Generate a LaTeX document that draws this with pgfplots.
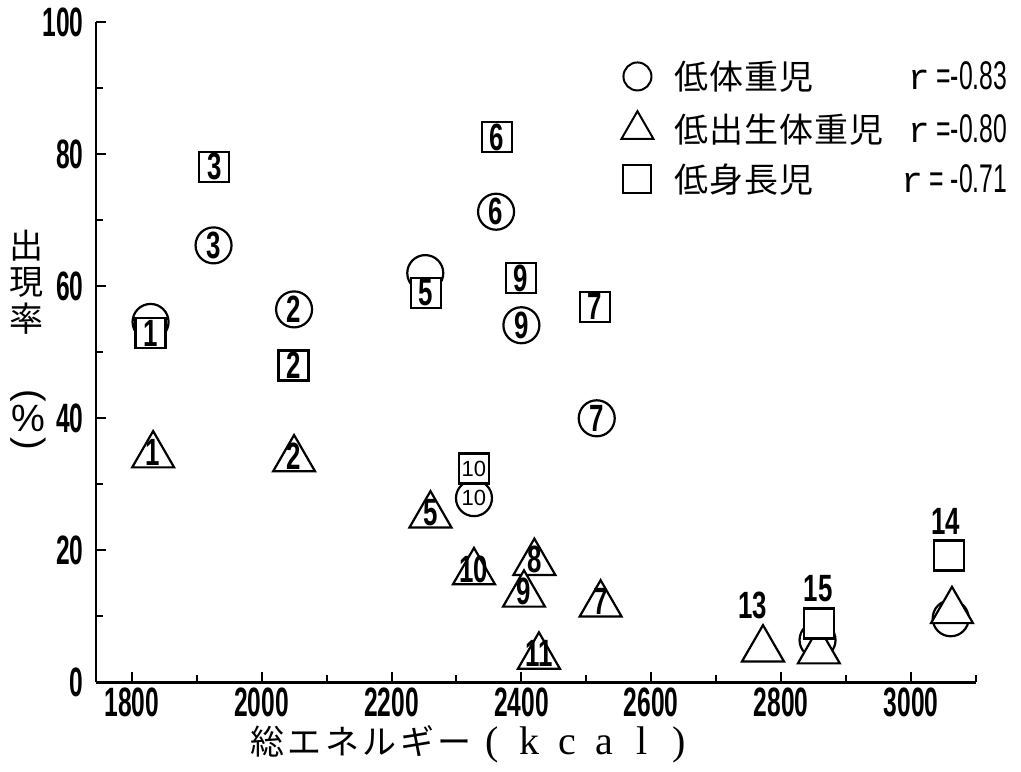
\documentclass[border=0pt]{standalone}
\usepackage{fontspec}
\usepackage{pgfplots}
\pgfplotsset{compat=1.18}
\setmainfont{Liberation Sans}
\newfontfamily\jp{Noto Sans CJK JP}
\newfontfamily\bcond[FakeStretch=0.6]{Liberation Sans Bold}
\newfontfamily\mcond[FakeStretch=0.68]{Liberation Sans Bold}
\newfontfamily\rcond[FakeStretch=0.62]{Liberation Sans}
\newfontfamily\mono{Liberation Mono}
\newfontfamily\serif{Liberation Serif}
\newcommand\tl{\bcond\fontsize{20.5}{20.5}\selectfont}
\newcommand\ml{\mcond\fontsize{19}{19}\selectfont}
\newcommand\jc[1]{\makebox[17.5pt]{#1}}
\newcommand\xc[1]{\makebox[18.75pt]{#1}}
\begin{document}
\begin{tikzpicture}
\path[use as bounding box] (-48pt,-44.35pt) rectangle (462.5pt,341.15pt);
\begin{axis}[
  scale only axis, width=440pt, height=330pt,
  xmin=1745, xmax=3100, ymin=0, ymax=100,
  axis lines*=left, axis line style={line width=1.3pt},
  tick align=inside,
  xtick={1800,2000,...,3000}, minor xtick={1900,2100,...,3100},
  ytick={0,20,...,100}, minor ytick={10,30,...,90},
  major tick length=5pt, minor tick length=3.5pt,
  every tick/.append style={black, line width=1pt},
  /pgf/number format/assume math mode=true,
  /pgf/number format/1000 sep={},
  ticklabel style={font=\tl, inner sep=0pt},
  xticklabel style={yshift=-2.5pt},
  yticklabel style={xshift=-6pt},
  clip=false,
  legend style={at={(axis description cs:0.5955,0.9424)}, anchor=north west,
    draw=none, fill=none, inner sep=0pt, row sep=9pt, column sep=10pt,
    nodes={inner sep=0pt}},
  legend cell align=left,
]
% circles
\addplot[only marks, mark=*, mark size=9pt, mark options={fill=white, draw=black, line width=1.1pt}, forget plot]
table {
x y
1829 54.6
2050 56.5
1926 66.2
2252 62.0
2361 71.3
2516 40.0
2400 54.1
2327 27.9
3061 9.7
2856 6.4
};
% triangles
\addplot[only marks, mark=triangle*, mark size=12.1pt, mark options={fill=white, draw=black, line width=1.1pt}, forget plot]
table {
x y
1833 34.4
2050 33.8
2260 25.3
2522 11.8
2420 18.1
2404 13.3
2327 16.7
2427 3.9
2772 5.0
3063 10.8
2858 4.7
};
% squares
\addplot[only marks, mark=square*, mark size=7.5pt, mark options={fill=white, draw=black, line width=1.1pt}, forget plot]
table {
x y
1829 52.9
2049 48.0
1927 78.1
2253 59.0
2362 82.6
2513 56.9
2399 61.2
2327 32.4
3058 19.2
2858 8.9
};
% labels bold (circles and squares)
\addplot[only marks, mark=none, forget plot, nodes near coords, point meta=explicit symbolic,
  every node near coord/.append style={anchor=center, font=\ml, text=black, inner sep=0pt}]
table[meta=l] {
x y l
2050 56.5 2
1926 66.2 3
2361 71.3 6
2516 40.0 7
2400 54.1 9
1829 52.9 1
2049 48.0 2
1927 78.1 3
2253 59.0 5
2362 82.6 6
2513 56.9 7
2399 61.2 9
};
% labels regular
\addplot[only marks, mark=none, forget plot, nodes near coords, point meta=explicit symbolic,
  every node near coord/.append style={anchor=center, font=\fontsize{11}{11}\selectfont, text=black, inner sep=0pt}]
table[meta=l] {
x y l
2327 27.9 10
2327 32.4 10
};
% triangle labels
\addplot[only marks, mark=none, forget plot, nodes near coords, point meta=explicit symbolic,
  every node near coord/.append style={anchor=center, font=\ml, text=black, inner sep=0pt, yshift=1.5pt}]
table[meta=l] {
x y l
1833 34.4 1
2050 33.8 2
2260 25.3 5
2522 11.8 7
2420 18.1 8
2404 13.3 9
2327 16.7 10
2427 3.9 11
};
\node[font=\ml] at (axis cs:2756,11.7) {13};
\node[font=\ml] at (axis cs:2857,14.2) {15};
\node[font=\ml] at (axis cs:3053,24.3) {14};
% legend
\addlegendimage{legend image code/.code={\draw[line width=1pt] (0pt,0pt) circle[radius=7pt];}}
\addlegendentry{\makebox[166.5pt][l]{\jp\fontsize{17}{17}\selectfont\jc{低}\jc{体}\jc{重}\jc{児}\hfill{\mono\fontsize{18}{18}\selectfont r}{\rcond\fontsize{20}{20}\selectfont\,=-0.83}}}
\addlegendimage{legend image code/.code={\draw[line width=1pt] (-8pt,-4.62pt) -- (8pt,-4.62pt) -- (0pt,9.24pt) -- cycle;}}
\addlegendentry{\makebox[166.5pt][l]{\jp\fontsize{17}{17}\selectfont\jc{低}\jc{出}\jc{生}\jc{体}\jc{重}\jc{児}\hfill{\mono\fontsize{18}{18}\selectfont r}{\rcond\fontsize{20}{20}\selectfont\,=-0.80}}}
\addlegendimage{legend image code/.code={\draw[line width=1pt] (-7pt,-7pt) rectangle (7pt,7pt);}}
\addlegendentry{\makebox[166.5pt][l]{\jp\fontsize{17}{17}\selectfont\jc{低}\jc{身}\jc{長}\jc{児}\hfill{\mono\fontsize{18}{18}\selectfont r}{\rcond\fontsize{20}{20}\selectfont\,= -0.71}}}
\end{axis}
% axis titles
\node[anchor=west, inner sep=0pt] at (76pt,-30.85pt) {\jp\fontsize{17}{17}\selectfont\xc{総}\xc{エ}\xc{ネ}\xc{ル}\xc{ギ}\xc{ー}{\serif\fontsize{20}{20}\selectfont\xc{(}\xc{k}\xc{c}\xc{a}\xc{l}\xc{)}}};
\node[inner sep=0pt, font=\jp\fontsize{17}{17}\selectfont] at (-34.5pt,218.2pt) {出};
\node[inner sep=0pt, font=\jp\fontsize{17}{17}\selectfont] at (-34.5pt,200.0pt) {現};
\node[inner sep=0pt, font=\jp\fontsize{17}{17}\selectfont] at (-34.5pt,181.8pt) {率};
\node[inner sep=0pt, rotate=-90, font=\fontsize{19}{19}\selectfont] at (-33.75pt,143.4pt) {(};
\node[inner sep=0pt, font=\fontsize{19}{19}\selectfont] at (-33.75pt,131.7pt) {\%};
\node[inner sep=0pt, rotate=-90, font=\fontsize{19}{19}\selectfont] at (-33.75pt,119.4pt) {)};
\end{tikzpicture}
\end{document}
